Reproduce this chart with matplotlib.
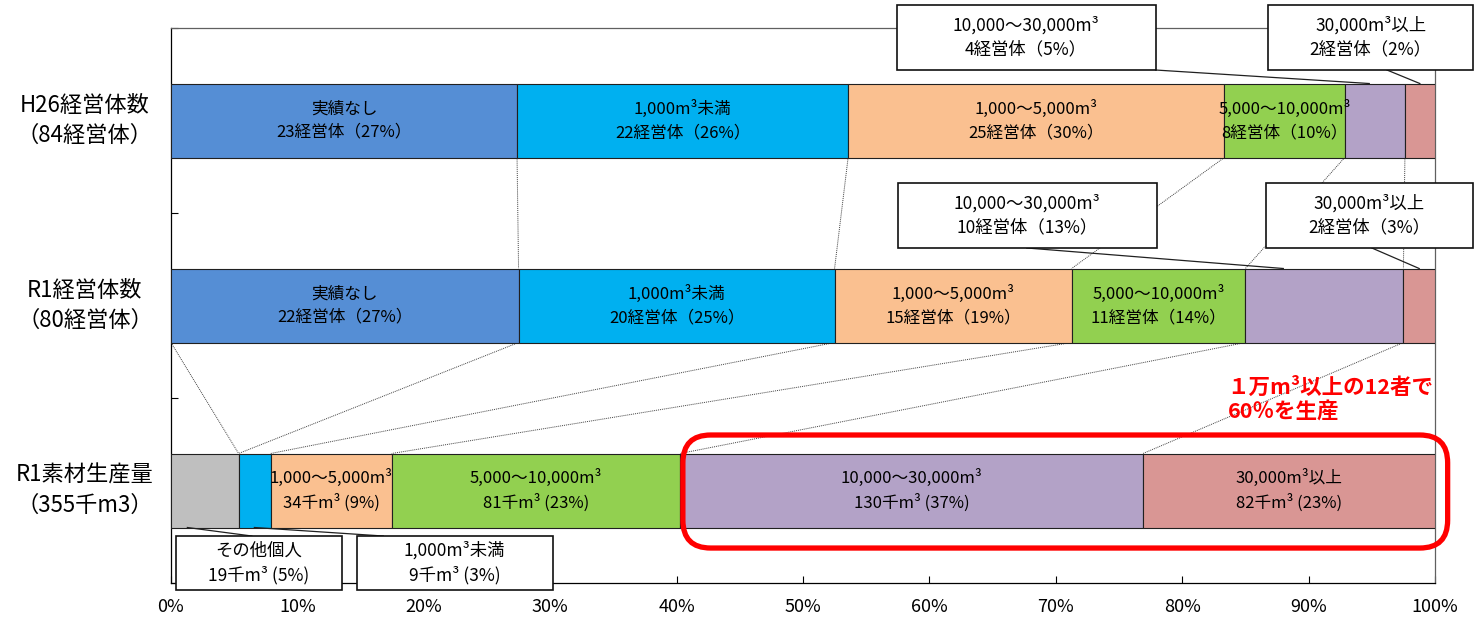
import numpy as np
import matplotlib
matplotlib.use('Agg')
import matplotlib.pyplot as plt
from matplotlib.patches import Rectangle, FancyBboxPatch

plt.rcParams['font.family'] = ['Noto Sans CJK JP', 'DejaVu Sans']

# --- data ---
row_labels = ['R1素材生産量\n（355千m3）', 'R1経営体数\n（80経営体）', 'H26経営体数\n（84経営体）']
h26_counts = [23, 22, 25, 8, 4, 2]
r1_counts = [22, 20, 15, 11, 10, 2]
r1_volume = [19, 9, 34, 81, 130, 82]

h26_text = ['実績なし\n23経営体（27%）', '1,000m³未満\n22経営体（26%）', '1,000～5,000m³\n25経営体（30%）',
            '5,000～10,000m³\n8経営体（10%）', '', '']
r1_text = ['実績なし\n22経営体（27%）', '1,000m³未満\n20経営体（25%）', '1,000～5,000m³\n15経営体（19%）',
           '5,000～10,000m³\n11経営体（14%）', '', '']
vol_text = ['', '', '1,000～5,000m³\n34千m³ (9%)', '5,000～10,000m³\n81千m³ (23%)',
            '10,000～30,000m³\n130千m³ (37%)', '30,000m³以上\n82千m³ (23%)']

count_colors = ['#558ED5', '#00B0F0', '#FAC090', '#92D050', '#B3A2C7', '#D99694']
vol_colors = ['#BFBFBF', '#00B0F0', '#FAC090', '#92D050', '#B3A2C7', '#D99694']

xticks = np.arange(0, 101, 10)

# callouts: (text, x0, x1, y0, y1, leader from (x,y) to (x,y))
callouts = [
    ('10,000～30,000m³\n4経営体（5%）', 57.4, 77.9, 2.273, 2.624, (77.9, 2.273), (94.8, 2.2)),
    ('30,000m³以上\n2経営体（2%）', 86.8, 103.0, 2.273, 2.624, (96.2, 2.273), (98.8, 2.2)),
    ('10,000～30,000m³\n10経営体（13%）', 57.5, 78.0, 1.311, 1.662, (67.7, 1.311), (88.0, 1.2)),
    ('30,000m³以上\n2経営体（3%）', 86.6, 103.0, 1.311, 1.662, (95.0, 1.311), (98.75, 1.2)),
    ('その他個人\n19千m³ (5%)', 0.4, 13.5, -0.538, -0.246, (1.3, -0.2), (6.4, -0.246)),
    ('1,000m³未満\n9千m³ (3%)', 14.7, 30.2, -0.538, -0.246, (6.6, -0.2), (16.8, -0.246)),
]


def to_pct(vals):
    v = np.array(vals, dtype=float)
    return v / v.sum() * 100


fig = plt.figure(figsize=(14.8, 6.24), dpi=100)
ax = fig.add_axes([0.1155, 0.0657, 0.8541, 0.8894])

bar_h = 0.4
rows = [(0, to_pct(r1_volume), vol_colors, vol_text),
        (1, to_pct(r1_counts), count_colors, r1_text),
        (2, to_pct(h26_counts), count_colors, h26_text)]

for y, pct, cols, texts in rows:
    left = np.concatenate([[0], np.cumsum(pct)[:-1]])
    ax.barh(y, pct, left=left, height=bar_h, color=cols, edgecolor='#202020', linewidth=0.8, zorder=3)
    for l, w, t in zip(left, pct, texts):
        if t:
            ax.text(l + w / 2, y, t, ha='center', va='center', fontsize=12, linespacing=1.45, zorder=4)

# dotted connectors between bars
cum_h26 = np.cumsum(to_pct(h26_counts))
cum_r1 = np.cumsum(to_pct(r1_counts))
cum_vol = np.cumsum(to_pct(r1_volume))
for a, b in zip(cum_h26[:-1], cum_r1[:-1]):
    ax.plot([a, b], [2 - bar_h / 2, 1 + bar_h / 2], color='#404040', lw=0.7, ls=(0, (1, 1)), zorder=2)
upper = np.concatenate([[0], cum_r1[:-1]])
lower = np.concatenate([[cum_vol[0]], cum_vol[:-1]])
for a, b in zip(upper, lower):
    ax.plot([a, b], [1 - bar_h / 2, bar_h / 2], color='#404040', lw=0.7, ls=(0, (1, 1)), zorder=2)

# callout boxes
for t, x0, x1, y0, y1, p0, p1 in callouts:
    ax.plot([p0[0], p1[0]], [p0[1], p1[1]], color='#202020', lw=0.9, zorder=4, clip_on=False)
    ax.add_patch(Rectangle((x0, y0), x1 - x0, y1 - y0, facecolor='white', edgecolor='#101010',
                           lw=1.2, zorder=6, clip_on=False))
    ax.text((x0 + x1) / 2, (y0 + y1) / 2, t, ha='center', va='center', fontsize=12.5,
            linespacing=1.4, zorder=7, clip_on=False)

# red highlight
ax_w = 0.8541 * 1480
ax_h = 0.8894 * 624
aspect = (3 / ax_h) / (100 / ax_w)
ax.add_patch(FancyBboxPatch((40.5, -0.311), 60.5, 0.611, boxstyle='round,pad=0,rounding_size=2.2',
                            mutation_aspect=aspect, facecolor='none', edgecolor='#FF0000', lw=3.8,
                            zorder=8, clip_on=False))
ax.text(83.6, 0.492, '１万m³以上の12者で\n60％を生産', ha='left', va='center', fontsize=15.5,
        fontweight='bold', color='#FF0000', linespacing=1.15, zorder=8)

# row labels
for y, lab in enumerate(row_labels):
    ax.text(-0.068, y, lab, transform=ax.get_yaxis_transform(), ha='center', va='center',
            fontsize=16, linespacing=1.4)

ax.set_xlim(0, 100)
ax.set_ylim(-0.5, 2.5)
ax.set_xticks(xticks)
ax.set_xticklabels([f'{v}%' for v in xticks], fontsize=13)
ax.set_yticks([-0.5, 0.5, 1.5, 2.5])
ax.set_yticklabels([])
ax.tick_params(axis='x', direction='in', length=5, pad=11)
ax.tick_params(axis='y', direction='in', length=5)
for side in ['top', 'right']:
    ax.spines[side].set_color('#606060')
for s in ax.spines.values():
    s.set_linewidth(0.9)

fig.savefig('out.png', dpi=100)
